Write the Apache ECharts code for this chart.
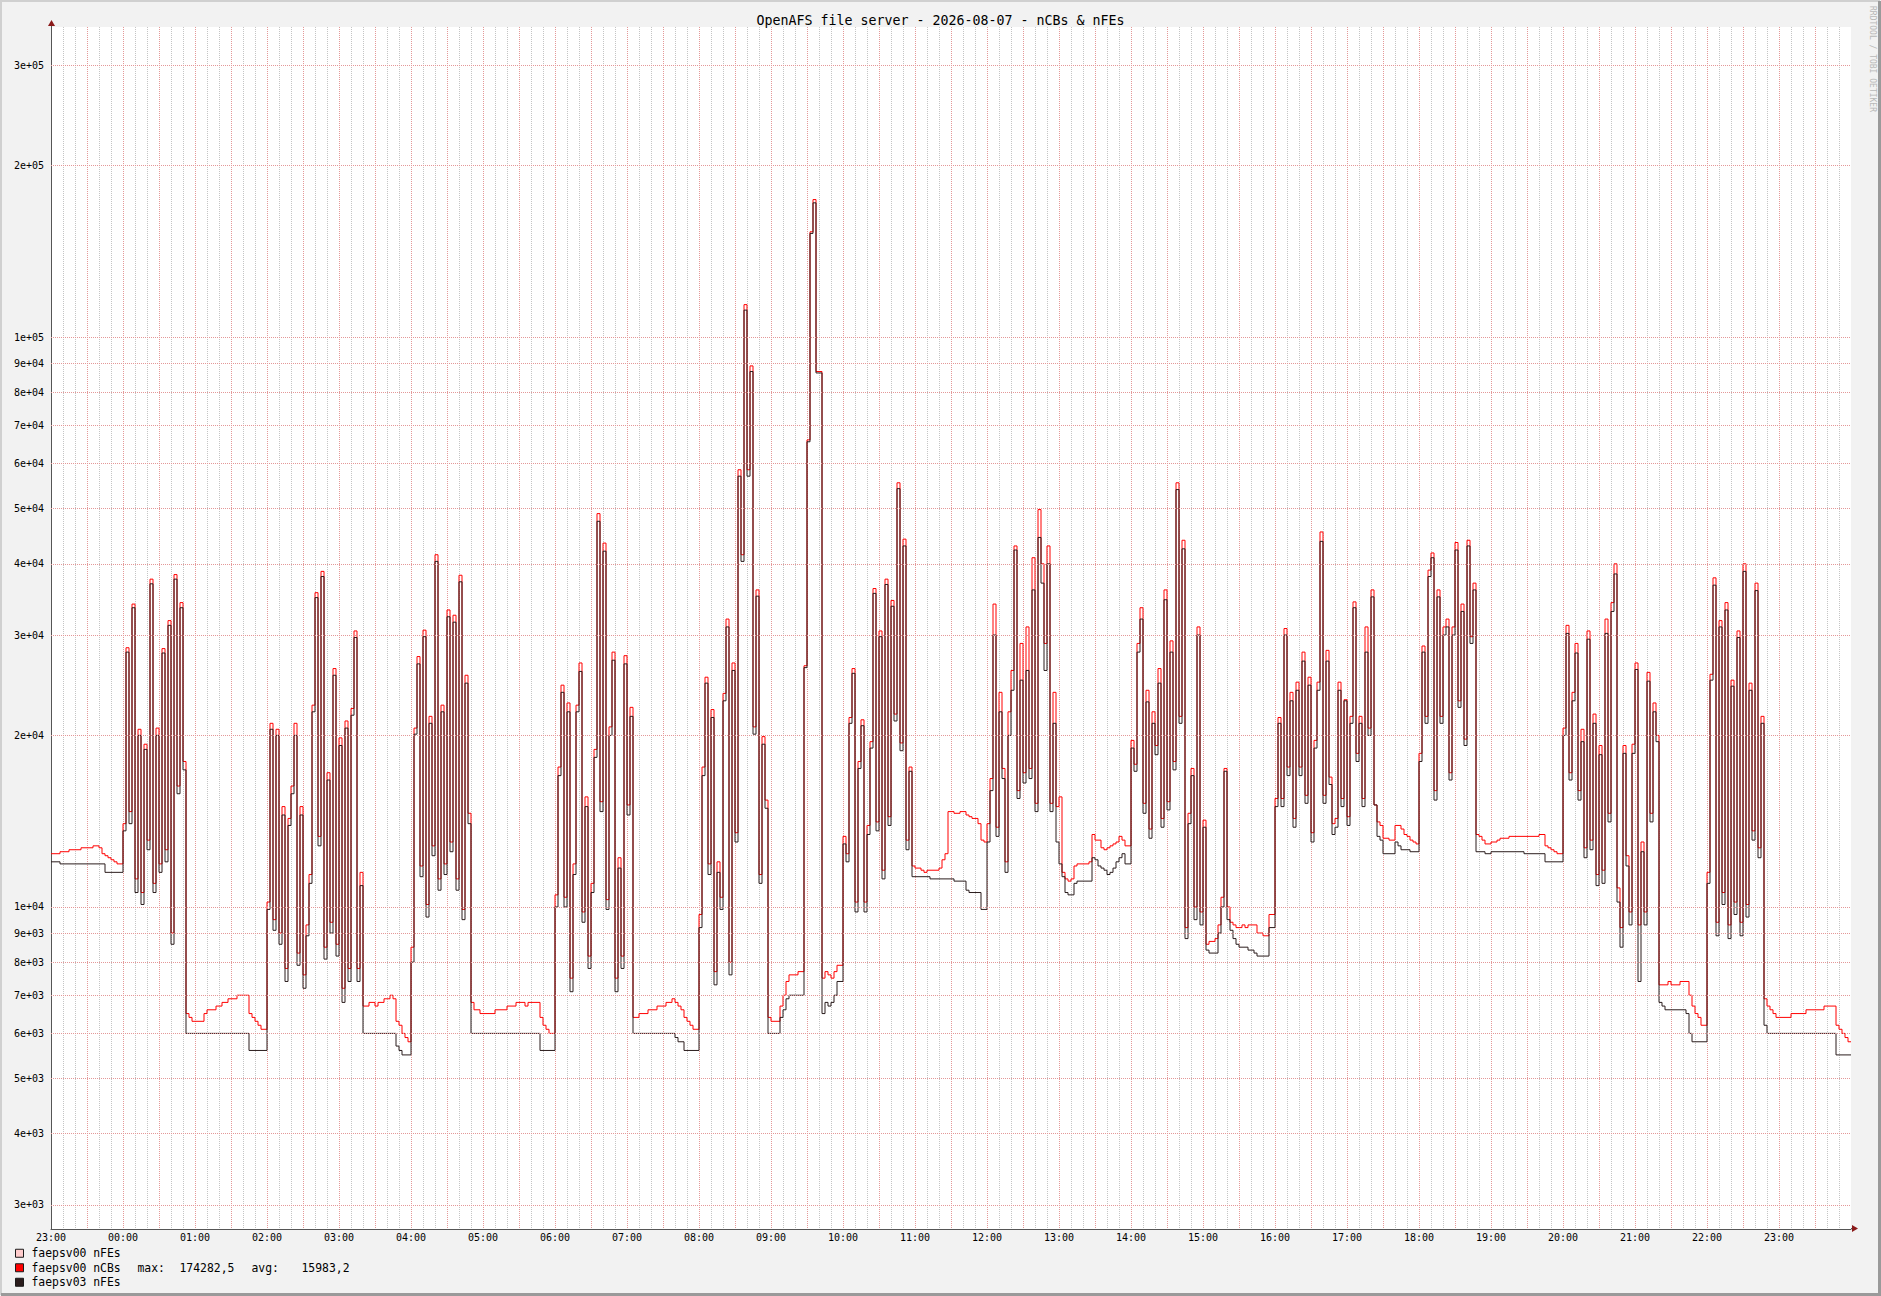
<!DOCTYPE html>
<html>
<head>
<meta charset="utf-8">
<title>OpenAFS file server - 2026-08-07 - nCBs &amp; nFEs</title>
<script src="https://cdn.jsdelivr.net/npm/echarts@6.0.0/dist/echarts.min.js"></script>
<style>
  html, body { margin: 0; padding: 0; background: #f2f2f2; }
  #chart { width: 1881px; height: 1296px; }
</style>
</head>
<body>
<div id="chart"></div>
<script>
// ---------------- DATA ----------------
// Series names (legend order)
const seriesNames = ['faepsv00 nFEs', 'faepsv00 nCBs', 'faepsv03 nFEs'];

// Time grid: 2.5 minute steps from 2026-08-06 23:00 (UTC) for 25 hours.
const startTime = Date.UTC(2026, 7, 6, 23, 0, 0);
const stepMinutes = 2.5;

// Values in hundreds (x100), one per 2.5 min step.
// faepsv00 nCBs (red)
const nCBs_faepsv00 = [
  // 23:00 low
  124,124,124,125,125,125,126,126,126,126,127,127,127,127,128,128,127,124,123,122,121,120,119,119,
  // 00:00 busy
  140,285,147,340,112,205,106,193,131,376,110,206,119,284,126,318,90,383,163,342,180,
  // 00:52 low
  65,64,63,63,63,63,65,66,66,66,67,67,68,68,69,69,69,70,70,70,70,65,64,63,62,61,61,
  // 02:00 busy
  102,210,95,205,90,150,78,143,163,210,83,150,76,93,114,226,356,133,388,85,172,94,262,86,198,72,212,78,223,305,78,115,
  // 03:20 low
  67,67,68,68,67,68,68,69,69,70,69,63,62,60,59,58,
  // 04:00 busy
  85,206,275,118,306,101,216,128,415,112,226,119,332,130,325,112,382,99,255,146,
  // 04:50 low
  68,66,66,65,65,65,65,65,66,66,66,66,67,67,67,68,68,68,67,68,68,68,68,64,62,61,60,60,
  // 06:00 busy
  105,176,245,104,228,75,119,226,268,98,156,82,110,189,490,153,435,103,207,280,75,122,82,276,151,224,
  // 07:05 low
  64,64,65,65,65,66,66,66,67,67,67,68,68,69,68,67,66,64,63,62,61,61,
  // 08:00 busy
  97,176,253,119,222,77,120,104,237,320,80,268,135,585,415,1140,585,890,207,360,114,199,154,
  // 08:57 low
  64,63,63,63,67,70,74,76,76,76,77,77,
  // 09:27 peak
  265,660,1530,1742.825,870,870,
  // 09:42 low
  75,77,76,75,77,79,79,
  // 10:00 busy
  133,124,215,262,102,180,213,102,139,195,362,141,305,116,376,144,345,218,555,194,442,131,176,
  // 10:57 low
  118,117,117,116,115,116,116,116,116,117,121,124,147,147,146,146,147,147,145,144,143,143,140,131,130,
  // 12:00 busy
  140,168,340,138,238,175,120,220,260,430,160,290,172,310,175,410,152,498,400,290,430,152,238,150,
  // 13:00 low
  156,115,112,111,112,118,119,119,119,119,120,134,131,131,127,126,127,128,129,130,133,131,128,128,
  // 14:00 busy
  196,178,290,335,152,240,137,220,192,262,143,360,153,293,180,555,216,440,92,146,175,100,310,98,142,
  // 15:02 low
  86,87,87,88,93,104,175,100,94,93,92,92,93,92,93,93,93,90,90,89,89,97,97,
  // 16:00 busy
  155,215,155,308,176,238,143,248,176,280,157,253,135,196,248,455,157,282,169,140,143,248,155,231,144,216,343,186,216,155,310,206,360,151,
  // 17:25 low
  141,139,132,132,131,131,139,139,137,134,133,131,130,129,
  // 18:00 busy
  186,287,216,390,418,160,360,216,310,320,172,310,436,230,340,197,440,298,370,
  // 18:47 low
  134,133,131,129,129,130,130,131,132,132,132,133,133,133,133,133,133,133,133,133,133,134,134,128,127,126,125,124,124,
  // 20:00 busy
  206,312,172,238,290,160,205,127,305,131,218,114,192,116,320,146,342,400,108,92,192,123,98,193,268,93,130,98,258,146,228,200,
  // 21:20 low
  73,73,73,74,73,73,73,74,74,74,70,67,65,64,62,62,
  // 22:00 busy
  115,256,378,94,318,106,342,93,250,102,305,94,400,101,247,136,370,127,216,
  // 22:47 low
  69,67,66,65,64,64,64,64,64,65,65,65,65,65,66,66,66,66,66,66,67,67,67,67,62,61,60,59,58
];

// faepsv03 nFEs (dark)
const nFEs_faepsv03 = [
  // 23:00 low
  120,120,120,119,119,119,119,119,119,119,119,119,119,119,119,119,119,119,115,115,115,115,115,115,
  // 00:00 busy
  136,280,140,335,106,200,101,189,126,369,106,200,115,279,120,312,86,376,158,335,174,
  // 00:52 low
  60,60,60,60,60,60,60,60,60,60,
  60,60,60,60,60,60,60,60,60,60,
  60,56,56,56,56,56,56,
  // 02:00 busy
  99,205,91,200,86,145,74,139,158,200,79,145,72,89,110,220,349,128,380,81,167,90,255,82,192,68,206,74,217,297,74,109,
  // 03:20 low
  60,60,60,60,60,60,60,60,60,60,60,57,56,55,55,55,
  // 04:00 busy
  80,201,267,113,298,96,210,123,404,107,220,114,323,125,316,107,372,95,247,140,
  // 04:50 low
  60,60,60,60,60,60,60,60,60,60,
  60,60,60,60,60,60,60,60,60,60,
  60,60,60,56,56,56,56,56,
  // 06:00 busy
  100,170,238,100,220,71,114,220,259,94,150,78,106,183,475,147,421,99,200,271,71,117,78,267,145,216,
  // 07:05 low
  60,60,60,60,60,60,60,60,60,60,
  60,60,60,60,59,58,58,56,56,56,56,56,
  // 08:00 busy
  92,170,247,114,215,73,115,99,230,310,76,260,130,570,404,1115,570,870,201,351,110,193,149,
  // 08:57 low
  60,60,60,60,64,66,69,70,70,70,70,70,
  // 09:27 peak
  263,655,1520,1720,865,865,
  // 09:42 low
  65,68,67,68,70,74,74,
  // 10:00 busy
  129,120,210,257,98,175,208,98,134,190,355,136,298,112,368,139,337,212,542,188,430,126,173,
  // 10:57 low
  113,113,113,113,113,113,112,112,112,112,112,112,112,112,111,111,111,111,107,106,106,106,106,99,99,
  // 12:00 busy
  130,160,300,133,220,168,115,200,240,423,155,250,165,260,168,360,147,445,370,260,400,147,210,130,
  // 13:00 low
  119,113,106,105,105,110,111,111,111,111,111,122,121,118,117,116,114,115,117,120,122,124,119,119,
  // 14:00 busy
  190,173,280,320,146,229,132,210,185,247,138,346,148,280,174,540,210,425,88,140,170,95,300,93,138,
  // 15:02 low
  84,83,83,83,90,100,173,95,91,88,86,85,85,85,84,84,83,82,82,82,82,92,92,
  // 16:00 busy
  150,210,150,300,170,230,138,240,170,270,152,245,130,190,240,438,152,270,164,134,138,240,150,230,139,210,335,180,210,150,280,200,350,151,
  // 17:25 low
  133,131,124,124,124,124,130,128,126,126,126,125,125,125,
  // 18:00 busy
  180,280,210,380,410,154,350,210,300,310,167,300,423,224,330,192,430,290,360,
  // 18:47 low
  125,125,125,124,124,125,125,125,125,125,125,125,125,125,125,125,124,124,124,124,124,124,124,120,120,120,120,120,120,
  // 20:00 busy
  200,302,167,230,279,154,195,122,295,126,210,109,185,110,302,141,330,384,102,85,186,118,93,186,261,74,125,93,249,141,220,195,
  // 21:20 low
  68,67,66,66,66,66,66,66,66,65,60,58,58,58,58,58,
  // 22:00 busy
  110,250,367,89,310,101,332,88,244,97,297,89,388,96,240,131,359,122,210,
  // 22:47 low
  62,60,60,60,60,60,60,60,60,60,
  60,60,60,60,60,60,60,60,60,60,
  60,60,60,60,55,55,55,55,55
];

// faepsv00 nFEs (pink) – no visible line in the picture
const nFEs_faepsv00 = [];

// Legend statistics for faepsv00 nCBs
const nCBsMax = 174282.5;
const nCBsAvg = 15983.2;

// Y axis (log) labelled grid values
const yTickValues = [3000, 4000, 5000, 6000, 7000, 8000, 9000,
  10000, 20000, 30000, 40000, 50000, 60000, 70000, 80000, 90000,
  100000, 200000, 300000];
const yTickLabels = ['3e+03', '4e+03', '5e+03', '6e+03', '7e+03', '8e+03', '9e+03',
  '1e+04', '2e+04', '3e+04', '4e+04', '5e+04', '6e+04', '7e+04', '8e+04', '9e+04',
  '1e+05', '2e+05', '3e+05'];

// ---------------- CHART ----------------
const FONT = '"DejaVu Sans Mono", monospace';
const stepMs = stepMinutes * 60000;
const endTime = startTime + 25 * 3600000;

function toPoints(arr) {
  const pts = arr.map((v, i) => [startTime + i * stepMs, v * 100]);
  if (arr.length) pts.push([startTime + arr.length * stepMs, arr[arr.length - 1] * 100]);
  return pts;
}
function pad2(n) { return (n < 10 ? '0' : '') + n; }
function fmtComma(v) { return v.toFixed(1).replace('.', ','); }

const chart = echarts.init(document.getElementById('chart'), null, { renderer: 'svg', width: 1881, height: 1296 });

const labelMap = {};
yTickValues.forEach((v, i) => { labelMap[v] = yTickLabels[i]; });

const option = {
  backgroundColor: '#f2f2f2',
  animation: false,
  textStyle: { fontFamily: FONT },
  title: {
    text: 'OpenAFS file server - 2026-08-07 - nCBs & nFEs',
    left: 'center',
    top: 12,
    padding: 0,
    textStyle: { fontFamily: FONT, fontSize: 13.3, fontWeight: 'normal', color: '#000', lineHeight: 16 }
  },
  grid: {
    left: 51, right: 30, top: 27, bottom: 67,
    show: true, backgroundColor: '#ffffff', borderWidth: 0
  },
  legend: {
    data: seriesNames,
    orient: 'vertical',
    left: 15,
    top: 1246,
    padding: 0,
    itemGap: 0,
    itemWidth: 8,
    itemHeight: 8,
    icon: 'rect',
    selectedMode: false,
    itemStyle: { borderColor: '#1a1a1a', borderWidth: 1 },
    textStyle: {
      fontFamily: FONT, fontSize: 11.4, color: '#000', lineHeight: 14.5,
      padding: [0, 0, 0, 3],
      rich: {
        n: { fontFamily: FONT, fontSize: 11.4, color: '#000', width: 106 },
        m: { fontFamily: FONT, fontSize: 11.4, color: '#000', width: 42 },
        v: { fontFamily: FONT, fontSize: 11.4, color: '#000', width: 72 },
        g: { fontFamily: FONT, fontSize: 11.4, color: '#000', width: 50 },
        w: { fontFamily: FONT, fontSize: 11.4, color: '#000' }
      }
    },
    formatter: function (name) {
      if (name === 'faepsv00 nCBs') {
        return '{n|' + name + '}{m|max:}{v|' + fmtComma(nCBsMax) + '}{g|avg:}{w|' + fmtComma(nCBsAvg) + '}';
      }
      return '{n|' + name + '}';
    }
  },
  xAxis: {
    type: 'value',
    min: startTime,
    max: endTime,
    interval: 1800000,
    axisLine: { show: true, onZero: false, lineStyle: { color: '#555555', width: 1 } },
    axisTick: { show: false },
    axisLabel: {
      margin: 3,
      fontFamily: FONT, fontSize: 10, color: '#000',
      showMaxLabel: false,
      formatter: function (v) {
        const d = new Date(v);
        if (d.getUTCMinutes() !== 0 || v >= endTime) return '';
        return pad2(d.getUTCHours()) + ':' + pad2(d.getUTCMinutes());
      }
    },
    splitLine: {
      show: true, showMinLine: false, showMaxLine: false,
      lineStyle: { color: '#e49898', type: [1, 1], width: 1 }
    },
    minorTick: { show: false, splitNumber: 3 },
    minorSplitLine: { show: true, lineStyle: { color: '#c4c4c4', type: [1, 1], width: 1 } }
  },
  yAxis: {
    type: 'log',
    logBase: 10,
    min: 2722,
    max: 350000,
    axisLine: { show: true, onZero: false, lineStyle: { color: '#555555', width: 1 } },
    axisTick: { show: false },
    axisLabel: { show: false },
    splitLine: { show: false },
    minorSplitLine: { show: false }
  },
  series: [
    {
      name: seriesNames[0],
      type: 'line',
      color: '#ffcccc',
      step: 'end',
      symbol: 'none',
      z: 1,
      lineStyle: { width: 1 },
      data: toPoints(nFEs_faepsv00),
      markLine: {
        silent: true,
        symbol: ['none', 'none'],
        animation: false,
        lineStyle: { color: '#e49898', type: [1, 1], width: 1 },
        label: {
          show: true,
          position: 'start',
          distance: 7,
          fontFamily: FONT, fontSize: 10, color: '#000',
          formatter: function (p) { return labelMap[p.value] || ''; }
        },
        emphasis: { disabled: true },
        data: yTickValues.map(v => ({ yAxis: v }))
      }
    },
    {
      name: seriesNames[1],
      type: 'line',
      color: '#ff0000',
      step: 'end',
      symbol: 'none',
      z: 2,
      lineStyle: { width: 1, color: '#ff0000' },
      data: toPoints(nCBs_faepsv00)
    },
    {
      name: seriesNames[2],
      type: 'line',
      color: '#2b1d1d',
      step: 'end',
      symbol: 'none',
      z: 3,
      lineStyle: { width: 1, color: '#2b1d1d' },
      data: toPoints(nFEs_faepsv03)
    }
  ],
  graphic: [
    // 3D frame
    { type: 'polyline', silent: true, shape: { points: [[1, 1295], [1, 1], [1880, 1]] }, style: { stroke: '#d0d0d0', lineWidth: 2, fill: null } },
    { type: 'polyline', silent: true, shape: { points: [[1879.5, 1], [1879.5, 1294.5], [1, 1294.5]] }, style: { stroke: '#9a9a9a', lineWidth: 3, fill: null } },
    // axis arrows
    { type: 'line', silent: true, shape: { x1: 51.5, y1: 27, x2: 51.5, y2: 24 }, style: { stroke: '#555555', lineWidth: 1 } },
    { type: 'polygon', silent: true, shape: { points: [[51.5, 20], [48, 26], [55, 26]] }, style: { fill: '#8b1a1a' } },
    { type: 'line', silent: true, shape: { x1: 1851, y1: 1228.5, x2: 1854, y2: 1228.5 }, style: { stroke: '#555555', lineWidth: 1 } },
    { type: 'polygon', silent: true, shape: { points: [[1858, 1228.5], [1852, 1225], [1852, 1232]] }, style: { fill: '#8b1a1a' } },
    // vertical credit text
    {
      type: 'text', silent: true, x: 1872, y: 6, rotation: -Math.PI / 2,
      style: { text: 'RRDTOOL / TOBI OETIKER', fill: '#b8b8b8', font: '8px "DejaVu Sans Mono"', align: 'left', verticalAlign: 'middle' }
    }
  ]
};

chart.setOption(option);
</script>
</body>
</html>
